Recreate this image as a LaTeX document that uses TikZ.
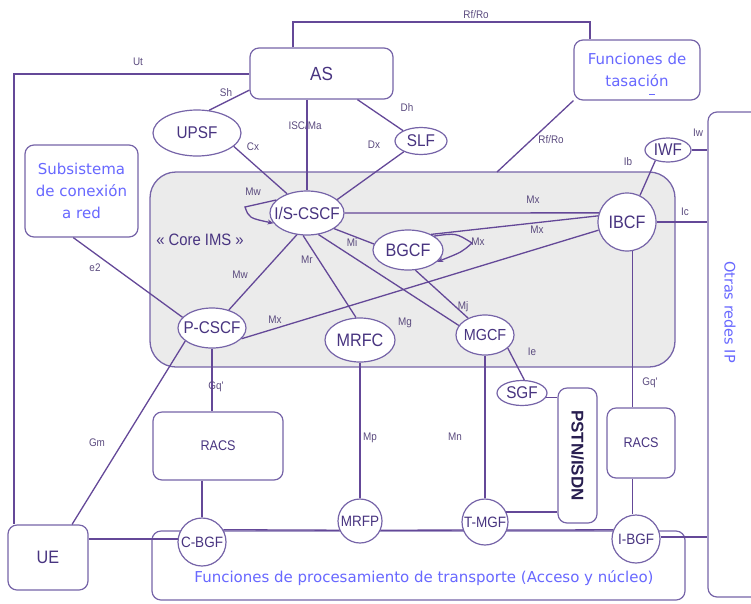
\documentclass[tikz,border=0pt]{standalone}
\usepackage{graphicx}
\usepackage{fontspec}
\setmainfont{Liberation Sans}
\newfontfamily\condsans[FakeStretch=0.9]{Liberation Sans}
\newfontfamily\widesans{DejaVu Sans}
\usetikzlibrary{shapes.geometric,arrows.meta,calc}

\definecolor{wire}{RGB}{100,72,152}
\definecolor{edgec}{RGB}{118,100,168}
\definecolor{ink}{RGB}{72,52,128}
\definecolor{tagc}{RGB}{90,74,126}
\definecolor{sky}{RGB}{104,104,255}
\definecolor{shade}{RGB}{235,235,235}
\definecolor{navy}{RGB}{40,30,80}

% zero-width box so that a label never widens its shape
\newcommand{\nt}[1]{\makebox[0pt]{#1}}

\begin{document}
\begin{tikzpicture}[x=1pt,y=-1pt,
  conn/.style={draw=wire,line width=1.3pt},
  trunk/.style={draw=wire,line width=2pt},
  bold conn/.style={draw=wire,line width=2.8pt},
  tag/.style={font=\condsans\fontsize{11}{12}\selectfont,text=tagc,inner sep=0},
  elem/.style={draw=edgec,line width=1.2pt,fill=white,inner sep=0,text=ink,
    font=\condsans\fontsize{17}{18}\selectfont},
  oval/.style={elem,ellipse},
  disc/.style={elem,circle},
  panel/.style={elem,rectangle,rounded corners=9pt},
  note/.style={text=sky,font=\widesans\fontsize{15}{22}\selectfont,align=center,inner sep=0},
  loop tip/.style={-{Stealth[length=6pt,width=5pt]}}
]
\useasboundingbox (0,0) rectangle (751,603);
\clip (0,0) rectangle (751,603);

% ---------- background regions ----------
\node[draw=edgec,line width=1.3pt,fill=shade,rounded corners=26pt,
      minimum width=525,minimum height=195,inner sep=0] (core) at (412.5,269.5) {};
\node[text=ink,font=\condsans\fontsize{16.5}{17}\selectfont,inner sep=0] (corelabel) at (200,240) {« Core IMS »};

\node[panel,minimum width=533,minimum height=69] (transport) at (418.5,565.5) {};
\node[note,font=\widesans\fontsize{15}{16}\selectfont] (transporttxt) at (424,578)
  {Funciones de procesamiento de transporte (Acceso y núcleo)};

\node[panel,minimum width=74,minimum height=485] (otras) at (745,354.5) {};
\node[note,font=\widesans\fontsize{14.5}{15}\selectfont] (otrastxt) at (730,312) {\rotatebox{-90}{Otras redes IP}};

% ---------- boxes ----------
\node[panel,minimum width=143,minimum height=51,font=\condsans\fontsize{19}{20}\selectfont] (as) at (321.5,73.5) {\nt{AS}};
\node[panel,note,minimum width=126,minimum height=60] (tasa) at (637,70) {Funciones de\\tasación};
\node[panel,note,minimum width=113,minimum height=92] (subsys) at (81.5,191) {Subsistema\\de conexión\\a red};
\node[panel,minimum width=80,minimum height=65,font=\condsans\fontsize{18}{19}\selectfont] (ue) at (48,557.5) {\nt{UE}};
\node[panel,minimum width=130,minimum height=68,font=\condsans\fontsize{14}{15}\selectfont] (racsl) at (218,446) {\nt{RACS}};
\node[panel,minimum width=68,minimum height=70,font=\condsans\fontsize{14}{15}\selectfont] (racsr) at (641,443) {\nt{RACS}};
\node[panel,minimum width=39,minimum height=135,text=navy,font=\bfseries\fontsize{17}{18}\selectfont] (pstn) at (577.5,455.5) {\rotatebox{-90}{PSTN/ISDN}};

% ---------- functional entities ----------
\node[oval,minimum width=88,minimum height=46] (upsf) at (197,133) {\nt{UPSF}};
\node[oval,minimum width=52,minimum height=27] (slf) at (421,141) {\nt{SLF}};
\node[oval,minimum width=74,minimum height=44] (iscscf) at (307,213) {\nt{I/S-CSCF}};
\node[oval,minimum width=70,minimum height=40,font=\condsans\fontsize{18}{19}\selectfont] (bgcf) at (408,250) {\nt{BGCF}};
\node[oval,minimum width=68,minimum height=40] (pcscf) at (212,328) {\nt{P-CSCF}};
\node[oval,minimum width=70,minimum height=44,font=\condsans\fontsize{18}{19}\selectfont] (mrfc) at (360,340) {\nt{MRFC}};
\node[oval,minimum width=58,minimum height=40,font=\condsans\fontsize{16}{17}\selectfont] (mgcf) at (485,335) {\nt{MGCF}};
\node[oval,minimum width=50,minimum height=25] (sgf) at (522,393) {\nt{SGF}};
\node[oval,minimum width=46,minimum height=24] (iwf) at (668,150) {\nt{IWF}};
\node[disc,minimum size=58,font=\condsans\fontsize{18}{19}\selectfont] (ibcf) at (627,222) {\nt{IBCF}};

\node[disc,minimum size=46,font=\condsans\fontsize{15}{16}\selectfont] (tmgf) at (485,522) {\nt{T-MGF}};
\node[disc,minimum size=44,font=\condsans\fontsize{15}{16}\selectfont] (mrfp) at (360,521) {\nt{MRFP}};
\node[disc,minimum size=48,font=\condsans\fontsize{15}{16}\selectfont] (cbgf) at (202,542) {\nt{C-BGF}};
\node[disc,minimum size=48,font=\condsans\fontsize{15}{16}\selectfont] (ibgf) at (636,539) {\nt{I-BGF}};

% ---------- reference points ----------
\coordinate (utx) at (14,0);
\coordinate (rfa) at (293,22);
\coordinate (rfb) at (590,22);
\coordinate (rfcore) at (497,172);

% ---------- connectors ----------
\draw[trunk] (as.west) -| (utx |- ue.north);
\draw[trunk] (rfa |- as.north) -- (rfa) -- (rfb) -- (rfb |- tasa.north);
\draw[conn] (tasa.south west) -- (rfcore);

\draw[conn] (as.193) -- (upsf.62);
\draw[conn] (upsf.-20) -- (iscscf.136);
\draw[trunk] (iscscf.north |- as.south) -- (iscscf.north);
\draw[conn] (as.-36) -- (slf.150);
\draw[conn] (slf.212) -- (iscscf.24);

\draw[conn,loop tip] (iscscf.157) -- (245,207) .. controls (249,218) .. (iscscf.197);
\draw[conn] (iscscf.east) -- (ibcf.162);
\draw[conn] (iscscf.-30) -- (bgcf.170);
\draw[conn] (bgcf.34) -- (ibcf.168);
\draw[conn,loop tip] (bgcf.28) .. controls (456,233) .. (472,243) .. controls (462,252) .. (bgcf.-22);
\draw[conn] (pcscf.-20) -- (ibcf.196);
\draw[conn] (iscscf.245) -- (pcscf.47);
\draw[conn] (subsys.260) -- (pcscf.160);
\draw[conn] (iscscf.-100) -- (mrfc.100);
\draw[conn] (iscscf.-62) -- (mgcf.160);
\draw[conn] (bgcf.-70) -- (mgcf.135);
\draw[conn] (mgcf.-30) -- (sgf.80);
\draw[conn] (sgf.-10) -- (sgf.-10 -| pstn.west);
\draw[bold conn] (mgcf.south) -- (tmgf.north);
\draw[bold conn] (tmgf.25) -- (tmgf.25 -| pstn.west);
\draw[conn] (mrfc.south) -- (mrfp.north);

\draw[conn] (pcscf.south) -- (pcscf.south |- racsl.north);
\draw[bold conn] (cbgf.north |- racsl.south) -- (cbgf.north);
\draw[conn] (ue.54) -- (pcscf.206);
\draw[trunk] (cbgf.172 -| ue.east) -- (cbgf.172);
\draw[conn] (cbgf.30) -- (mrfp.204);
\draw[conn] (mrfp.-24) -- (tmgf.200);
\draw[conn] (tmgf.-20) -- (ibgf.158);
\draw[trunk] (ibgf.5) -- (ibgf.5 -| otras.west);

\draw[conn] (ibcf.-80) -- (ibcf.-80 |- racsr.north);
\draw[conn] (ibcf.-80 |- racsr.south) -- (ibcf.-80 |- ibgf.north);
\draw[conn] (iwf.220) -- (ibcf.64);
\draw[conn] (iwf.east) -- (iwf.east -| otras.west);
\draw[trunk] (ibcf.east) -- (ibcf.east -| otras.west);

% small mark under the charging box text
\draw[sky,line width=1pt] (649,94) -- (655,94);

% ---------- interface names ----------
\node[tag] (tUt) at (138,62) {Ut};
\node[tag] (tRfTop) at (476,15) {Rf/Ro};
\node[tag] (tSh) at (226,93) {Sh};
\node[tag] (tIsc) at (305,126) {ISC/Ma};
\node[tag] (tDh) at (407,108) {Dh};
\node[tag] (tCx) at (253,147) {Cx};
\node[tag] (tDx) at (374,145) {Dx};
\node[tag] (tRf) at (551,140) {Rf/Ro};
\node[tag] (tMwLoop) at (253,192) {Mw};
\node[tag] (tMxA) at (533,200) {Mx};
\node[tag] (tMxB) at (537,230) {Mx};
\node[tag] (tMxLoop) at (478,242) {Mx};
\node[tag] (tMi) at (352,243) {Mi};
\node[tag] (tMr) at (307,260) {Mr};
\node[tag] (tMw) at (240,275) {Mw};
\node[tag] (te2) at (95,268) {e2};
\node[tag] (tMxC) at (275,320) {Mx};
\node[tag] (tMg) at (405,323) {Mg};
\node[tag] (tMj) at (463,307) {Mj};
\node[tag] (tIb) at (628,162) {Ib};
\node[tag] (tIw) at (698,133) {Iw};
\node[tag] (tIc) at (685,212) {Ic};
\node[tag] (tIe) at (532,352) {Ie};
\node[tag] (tGqL) at (216,387) {Gq'};
\node[tag] (tGqR) at (650,383) {Gq'};
\node[tag] (tGm) at (97,443) {Gm};
\node[tag] (tMp) at (370,438) {Mp};
\node[tag] (tMn) at (455,437) {Mn};
\end{tikzpicture}
\end{document}
